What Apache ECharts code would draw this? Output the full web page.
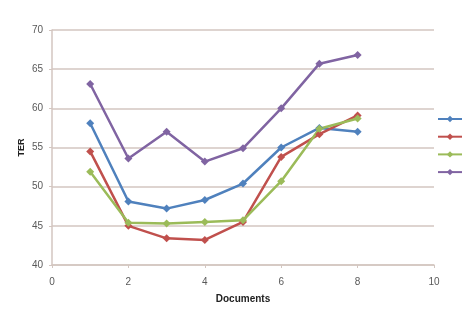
<!DOCTYPE html>
<html>
<head>
<meta charset="utf-8">
<script src="https://cdn.jsdelivr.net/npm/echarts@6/dist/echarts.min.js"></script>
<style>
  html, body { margin: 0; padding: 0; background: #ffffff; }
  #chart { width: 473px; height: 320px; }
</style>
</head>
<body>
<div id="chart"></div>
<script>
// Documents on the x axis, TER per run
const documents = [1, 2, 3, 4, 5, 6, 7, 8];
const seriesNames = ['Run 1', 'Run 2', 'Run 3', 'Run 4'];
const blueValues = [58.1, 48.1, 47.2, 48.3, 50.4, 55.0, 57.5, 57.0];
const redValues = [54.5, 45.0, 43.4, 43.2, 45.5, 53.8, 56.7, 59.1];
const greenValues = [51.9, 45.4, 45.3, 45.5, 45.7, 50.7, 57.4, 58.7];
const purpleValues = [63.1, 53.6, 57.0, 53.2, 54.9, 60.0, 65.7, 66.8];
const seriesColors = ['#4F81BD', '#C0504D', '#9BBB59', '#8064A2'];

const allValues = [blueValues, redValues, greenValues, purpleValues];

const chart = echarts.init(document.getElementById('chart'), null, { renderer: 'canvas' });

const gridColor = '#d3c6c0';
const labelColor = '#595959';

chart.setOption({
  animation: false,
  backgroundColor: '#ffffff',
  grid: { left: 52, right: 39, top: 30, bottom: 55, containLabel: false },
  legend: {
    orient: 'vertical',
    left: 432,
    top: 110,
    itemWidth: 24,
    itemHeight: 8,
    itemGap: 10.5,
    formatter: () => '',
    textStyle: { fontSize: 1 },
    data: seriesNames
  },
  xAxis: {
    type: 'value',
    min: 0, max: 10, interval: 2,
    name: 'Documents',
    nameLocation: 'middle',
    nameGap: 29,
    nameMoveOverlap: false,
    nameTextStyle: { fontFamily: 'Liberation Sans', fontWeight: 'bold', fontSize: 10, color: '#222', verticalAlign: 'top' },
    axisLine: { show: true, lineStyle: { color: gridColor, width: 1.5 } },
    axisTick: { show: true, length: 3, lineStyle: { color: gridColor } },
    axisLabel: { color: labelColor, fontFamily: 'Liberation Sans', fontSize: 10, margin: 12 },
    splitLine: { show: false }
  },
  yAxis: {
    type: 'value',
    min: 40, max: 70, interval: 5,
    name: 'TER',
    nameLocation: 'middle',
    nameGap: 30,
    nameMoveOverlap: false,
    nameRotate: 90,
    nameTextStyle: { fontFamily: 'Liberation Sans', fontWeight: 'bold', fontSize: 9, color: '#222', verticalAlign: 'middle' },
    axisLine: { show: true, lineStyle: { color: gridColor, width: 1.5 } },
    axisTick: { show: true, length: 3, lineStyle: { color: gridColor } },
    axisLabel: { color: labelColor, fontFamily: 'Liberation Sans', fontSize: 10, margin: 9 },
    splitLine: { show: true, lineStyle: { color: gridColor, width: 1.5 } }
  },
  series: seriesNames.map((name, i) => ({
    name,
    type: 'line',
    data: documents.map((d, j) => [d, allValues[i][j]]),
    symbol: 'diamond',
    symbolSize: 8,
    color: seriesColors[i],
    lineStyle: { width: 2.5, color: seriesColors[i] },
    itemStyle: { color: seriesColors[i] }
  }))
});
</script>
</body>
</html>
